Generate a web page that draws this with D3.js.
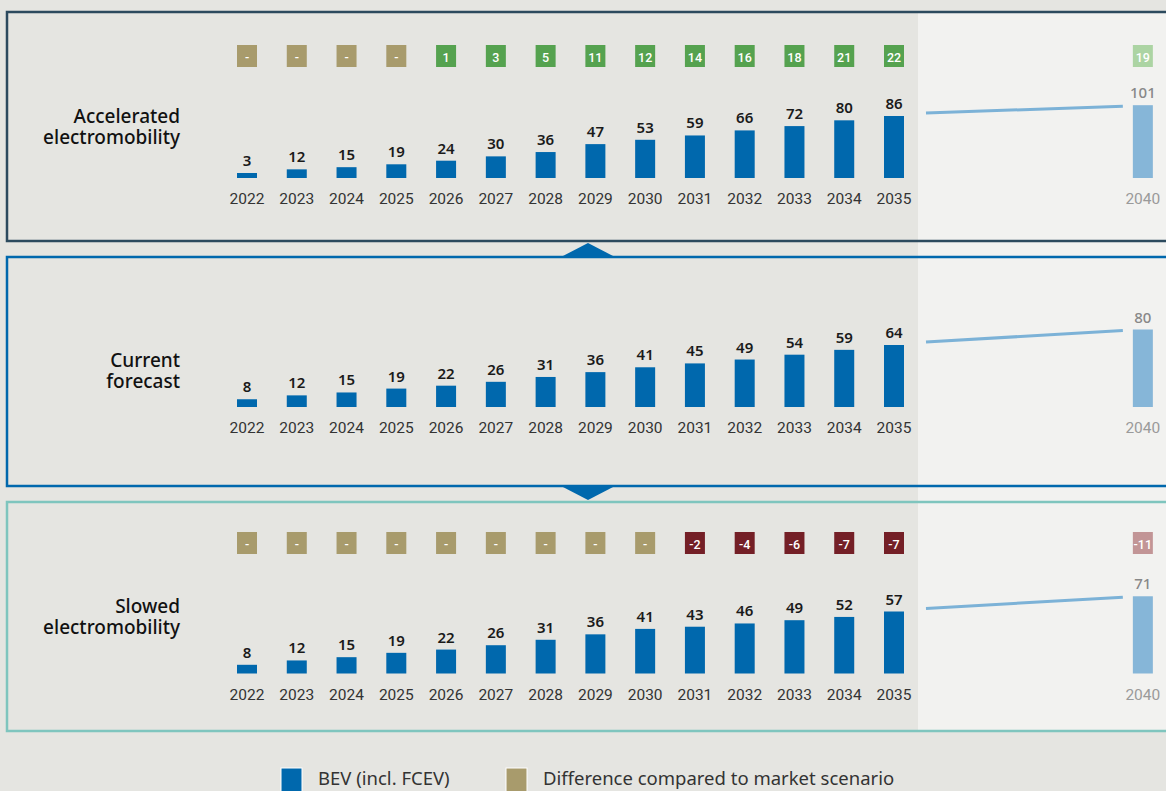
<!DOCTYPE html>
<html>
<head>
<meta charset="utf-8">
<script src="https://cdn.jsdelivr.net/npm/d3@7"></script>
<style>
  html, body { margin: 0; padding: 0; background: #e5e5e1; }
  svg { display: block; font-family: Roboto, sans-serif; }
</style>
</head>
<body>
<svg id="chart" width="1166" height="791"></svg>
<script>
// ---------- DATA ----------
const years = [2022, 2023, 2024, 2025, 2026, 2027, 2028, 2029, 2030, 2031, 2032, 2033, 2034, 2035];
const outlookYear = 2040;
const scenarioNames = [["Accelerated", "electromobility"], ["Current", "forecast"], ["Slowed", "electromobility"]];
const acceleratedValues = [3, 12, 15, 19, 24, 30, 36, 47, 53, 59, 66, 72, 80, 86];
const currentValues = [8, 12, 15, 19, 22, 26, 31, 36, 41, 45, 49, 54, 59, 64];
const slowedValues = [8, 12, 15, 19, 22, 26, 31, 36, 41, 43, 46, 49, 52, 57];
const outlookValues = [101, 80, 71];
const acceleratedDiff = [null, null, null, null, 1, 3, 5, 11, 12, 14, 16, 18, 21, 22];
const slowedDiff = [null, null, null, null, null, null, null, null, null, -2, -4, -6, -7, -7];
const outlookDiff = [19, null, -11];
const legendLabels = ["BEV (incl. FCEV)", "Difference compared to market scenario"];

// ---------- STYLE / LAYOUT ----------
const W = 1166, H = 791;
const colors = {
  bg: "#e5e5e1", light: "#f2f2f0",
  bar: "#0068ad", barLight: "#86b6d8", line: "#7cb2d7",
  neutral: "#a89b6c", pos: "#55a24f", neg: "#741f26",
  posLight: "#acd4a3", negLight: "#c29596",
  borders: ["#2c4a5e", "#0068ad", "#7fc5be"]
};
const NOTO = "'Noto Sans', sans-serif";
const panels = [
  { top: 12, bottom: 241, base: 178, box: 45, label: 126, values: acceleratedValues, diff: acceleratedDiff },
  { top: 257, bottom: 486, base: 407, box: null, label: 370, values: currentValues, diff: null },
  { top: 502, bottom: 731, base: 673.5, box: 532, label: 616, values: slowedValues, diff: slowedDiff }
];
const barW = 20, maxBarH = 62;

const svg = d3.select("#chart");
const x = d3.scaleLinear().domain([years[0], years[years.length - 1]]).range([247, 894]);

svg.append("rect").attr("width", W).attr("height", H).attr("fill", colors.bg);
// light outlook zone
svg.append("rect").attr("x", 918).attr("y", panels[0].top).attr("width", W - 918)
  .attr("height", panels[2].bottom - panels[0].top).attr("fill", colors.light);

panels.forEach((p, i) => {
  const g = svg.append("g");
  const y = d3.scaleLinear().domain([0, d3.max(p.values)]).range([0, maxBarH]);
  const h = v => Math.max(y(v), 5);

  // panel border
  g.append("rect").attr("x", 7).attr("y", p.top).attr("width", W + 10).attr("height", p.bottom - p.top)
    .attr("fill", "none").attr("stroke", colors.borders[i]).attr("stroke-width", 2.5);

  // scenario name (two lines)
  scenarioNames[i].forEach((s, k) => {
    g.append("text").attr("x", 180).attr("y", p.label + (k === 0 ? -10.5 : 10.5))
      .attr("dominant-baseline", "central").attr("text-anchor", "end")
      .attr("font-family", NOTO).attr("font-size", 19).attr("font-weight", 500).attr("fill", "#111")
      .text(s);
  });

  // bars
  g.selectAll("rect.bar").data(p.values).join("rect").attr("class", "bar")
    .attr("x", (d, k) => x(years[k]) - barW / 2).attr("y", d => p.base - h(d))
    .attr("width", barW).attr("height", d => h(d)).attr("fill", colors.bar);
  g.selectAll("text.val").data(p.values).join("text").attr("class", "val")
    .attr("x", (d, k) => x(years[k])).attr("y", d => p.base - h(d) - 7)
    .attr("text-anchor", "middle").attr("font-size", 15).attr("font-weight", 600).attr("fill", "#1a1a1a")
    .attr("font-family", NOTO)
    .text(d => d);
  g.selectAll("text.yr").data(years).join("text").attr("class", "yr")
    .attr("x", d => x(d)).attr("y", p.base + 21).attr("dominant-baseline", "central")
    .attr("text-anchor", "middle").attr("font-size", 15.5).attr("fill", "#333").text(d => d);

  // outlook bar
  const ov = outlookValues[i];
  const x40 = x(outlookYear);
  g.append("rect").attr("x", x40 - barW / 2).attr("y", p.base - y(ov)).attr("width", barW)
    .attr("height", y(ov)).attr("fill", colors.barLight);
  g.append("text").attr("x", x40).attr("y", p.base - y(ov) - 7).attr("text-anchor", "middle")
    .attr("font-family", NOTO)
    .attr("font-size", 15).attr("font-weight", 500).attr("fill", "#888").text(ov);
  g.append("text").attr("x", x40).attr("y", p.base + 21).attr("dominant-baseline", "central")
    .attr("text-anchor", "middle").attr("font-size", 15.5).attr("fill", "#9a9a9a").text(outlookYear);
  const last = p.values[p.values.length - 1];
  g.append("line").attr("x1", x(years[years.length - 1]) + 32).attr("y1", p.base - y(last) - 3)
    .attr("x2", x40 - 20).attr("y2", p.base - y(ov) + 1)
    .attr("stroke", colors.line).attr("stroke-width", 3);

  // difference boxes
  if (p.diff) {
    const fill = d => d == null ? colors.neutral : (d > 0 ? colors.pos : colors.neg);
    const bh = 22;
    g.selectAll("rect.diff").data(p.diff).join("rect").attr("class", "diff")
      .attr("x", (d, k) => x(years[k]) - barW / 2).attr("y", p.box)
      .attr("width", barW).attr("height", bh).attr("fill", fill);
    g.selectAll("text.diff").data(p.diff).join("text").attr("class", "diff")
      .attr("x", (d, k) => x(years[k])).attr("y", p.box + bh / 2 + 1).attr("dominant-baseline", "central")
      .attr("text-anchor", "middle").attr("font-size", 12.5).attr("font-weight", 500).attr("fill", "#fff")
      .text(d => d == null ? "-" : d);
    const od = outlookDiff[i];
    g.append("rect").attr("x", x40 - barW / 2).attr("y", p.box).attr("width", barW).attr("height", bh)
      .attr("fill", od > 0 ? colors.posLight : colors.negLight);
    g.append("text").attr("x", x40).attr("y", p.box + bh / 2 + 1).attr("dominant-baseline", "central")
      .attr("text-anchor", "middle").attr("font-size", 12.5).attr("font-weight", 500).attr("fill", "#fff").text(od);
  }
});

// connector triangles
const tx = 588, tw = 27;
svg.append("path").attr("fill", colors.bar)
  .attr("d", `M${tx - tw},${panels[1].top} L${tx},${panels[0].bottom + 2} L${tx + tw},${panels[1].top} Z`);
svg.append("path").attr("fill", colors.bar)
  .attr("d", `M${tx - tw},${panels[1].bottom} L${tx},${panels[2].top - 2} L${tx + tw},${panels[1].bottom} Z`);

// legend
const legend = [
  { x: 281, color: colors.bar, label: legendLabels[0] },
  { x: 506, color: colors.neutral, label: legendLabels[1] }
];
legend.forEach(l => {
  svg.append("rect").attr("x", l.x).attr("y", 768).attr("width", 21).attr("height", 26)
    .attr("fill", l.color).attr("stroke", "#fff").attr("stroke-width", 1);
  svg.append("text").attr("x", l.x + 37).attr("y", 777).attr("dominant-baseline", "central")
    .attr("font-family", NOTO)
    .attr("font-size", 18.5).attr("fill", "#333").text(l.label);
});
</script>
</body>
</html>
